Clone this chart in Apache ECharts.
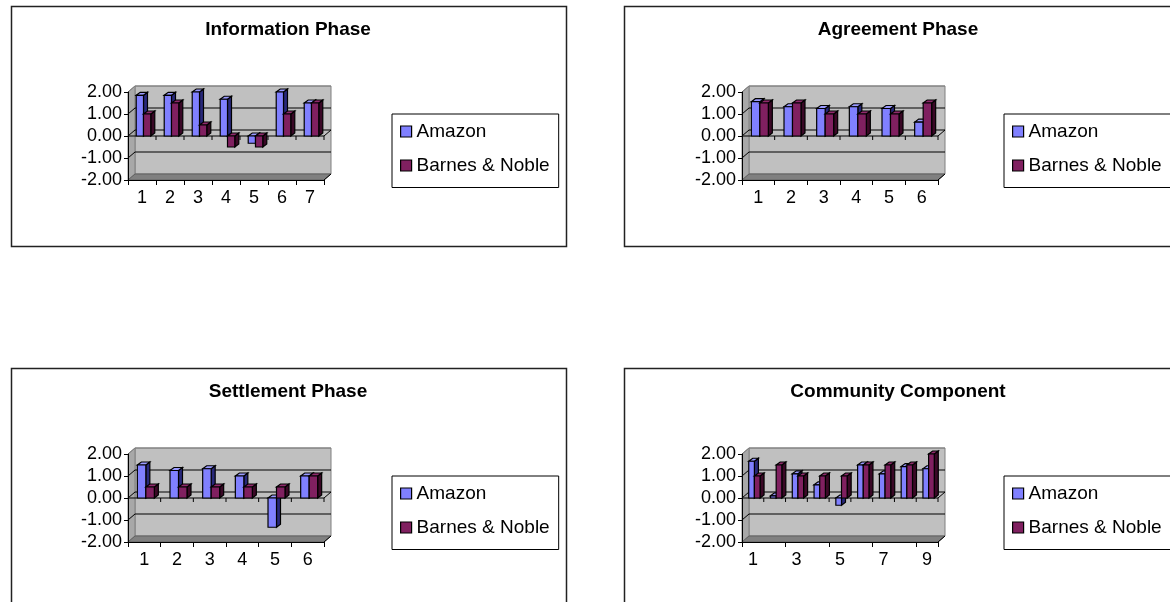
<!DOCTYPE html>
<html>
<head>
<meta charset="utf-8">
<script src="https://cdn.jsdelivr.net/npm/echarts@6/dist/echarts.min.js"></script>
<style>
html,body{margin:0;padding:0;background:#fff;}
#chart{width:1170px;height:602px;}
</style>
</head>
<body>
<div id="chart"></div>
<script>
// ---- data ----
const seriesNames = ['Amazon', 'Barnes & Noble'];
const titles = ['Information Phase', 'Agreement Phase', 'Settlement Phase', 'Community Component'];
const yTicks = [-2, -1, 0, 1, 2];

const infoCats = ['1', '2', '3', '4', '5', '6', '7'];
const infoAmazon = [1.85, 1.85, 2.0, 1.67, -0.33, 2.0, 1.5];
const infoBN = [1.0, 1.5, 0.5, -0.5, -0.5, 1.0, 1.5];

const agreeCats = ['1', '2', '3', '4', '5', '6'];
const agreeAmazon = [1.56, 1.33, 1.25, 1.33, 1.25, 0.63];
const agreeBN = [1.5, 1.5, 1.0, 1.0, 1.0, 1.5];

const settleCats = ['1', '2', '3', '4', '5', '6'];
const settleAmazon = [1.5, 1.25, 1.33, 1.0, -1.33, 1.0];
const settleBN = [0.5, 0.5, 0.5, 0.5, 0.5, 1.0];

const commCats = ['1', '2', '3', '4', '5', '6', '7', '8', '9'];
const commAmazon = [1.67, 0.1, 1.1, 0.6, -0.33, 1.5, 1.1, 1.43, 1.33];
const commBN = [1.0, 1.5, 1.0, 1.0, 1.0, 1.5, 1.5, 1.5, 2.0];

// ---- styling / layout ----
const FONT = 'Liberation Sans, Arial, sans-serif';
const COLORS = ['#8080ff', '#802060'];
const SIDE = ['#28287a', '#3a0826'];
const TOP = ['#9a9aff', '#902a6c'];
const DX = 7, DY = -6;      // depth of the plot box
const BDX = 4, BDY = -3;    // depth of each bar

const panels = [
  { cats: infoCats, a: infoAmazon, b: infoBN, box: [11, 6, 555, 240], grid: [128, 92], title: [288, 20], legend: [392, 114], legendPadR: 9 },
  { cats: agreeCats, a: agreeAmazon, b: agreeBN, box: [624, 6, 600, 240], grid: [742, 92], title: [898, 20], legend: [1004, 114], legendPadR: 30 },
  { cats: settleCats, a: settleAmazon, b: settleBN, box: [11, 368, 555, 300], grid: [128, 454], title: [288, 382], legend: [392, 476], legendPadR: 9 },
  { cats: commCats, a: commAmazon, b: commBN, box: [624, 368, 600, 300], grid: [742, 454], title: [898, 382], legend: [1004, 476], legendPadR: 30 }
];
const GW = 196, GH = 88;

function frameRender(n) {
  return function (params, api) {
    const band = api.size([1, 0])[0];
    const L = api.coord([0, 0])[0] - band / 2;
    const R = api.coord([n - 1, 0])[0] + band / 2;
    const T = api.coord([0, yTicks[yTicks.length - 1]])[1];
    const B = api.coord([0, yTicks[0]])[1];
    const Z = api.coord([0, 0])[1];
    const ch = [];
    ch.push({ type: 'polygon', shape: { points: [[L + DX, T + DY], [R + DX, T + DY], [R + DX, B + DY], [L + DX, B + DY]] }, style: { fill: '#c0c0c0', stroke: '#808080', lineWidth: 1 } });
    ch.push({ type: 'polygon', shape: { points: [[L, T], [L + DX, T + DY], [L + DX, B + DY], [L, B]] }, style: { fill: '#a8a8a8', stroke: '#808080', lineWidth: 1 } });
    ch.push({ type: 'polygon', shape: { points: [[L, B], [L + DX, B + DY], [R + DX, B + DY], [R, B]] }, style: { fill: '#808080', stroke: '#606060', lineWidth: 1 } });
    yTicks.forEach(function (v) {
      if (v === yTicks[0]) return;
      const y = api.coord([0, v])[1];
      const col = (v === yTicks[yTicks.length - 1]) ? '#808080' : '#000';
      ch.push({ type: 'line', shape: { x1: L + DX, y1: y + DY, x2: R + DX, y2: y + DY }, style: { stroke: col, lineWidth: 1 } });
      ch.push({ type: 'line', shape: { x1: L, y1: y, x2: L + DX, y2: y + DY }, style: { stroke: col, lineWidth: 1 } });
    });
    // front edge at zero with category ticks
    ch.push({ type: 'line', shape: { x1: L, y1: Z, x2: R, y2: Z }, style: { stroke: '#000', lineWidth: 1 } });
    ch.push({ type: 'line', shape: { x1: R, y1: Z, x2: R + DX, y2: Z + DY }, style: { stroke: '#000', lineWidth: 1 } });
    for (let k = 1; k <= n; k++) {
      const x = L + band * k;
      ch.push({ type: 'line', shape: { x1: x, y1: Z, x2: x, y2: Z + 4 }, style: { stroke: '#000', lineWidth: 1 } });
    }
    ch.push({ type: 'line', shape: { x1: R, y1: B, x2: R + DX, y2: B + DY }, style: { stroke: '#000', lineWidth: 1 } });
    return { type: 'group', children: ch };
  };
}

function barRender(s) {
  return function (params, api) {
    const i = api.value(0), v = api.value(1);
    const band = api.size([1, 0])[0];
    const bw = band * 0.26;
    const c = api.coord([i, 0]);
    const y0 = c[1], y1 = api.coord([i, v])[1];
    const x0 = c[0] - bw + s * bw + 1.5;
    const x1 = x0 + bw;
    const yt = Math.min(y0, y1), yb = Math.max(y0, y1);
    return {
      type: 'group', children: [
        { type: 'polygon', shape: { points: [[x1, yt], [x1 + BDX, yt + BDY], [x1 + BDX, yb + BDY], [x1, yb]] }, style: { fill: SIDE[s], stroke: '#000', lineWidth: 1.2 } },
        { type: 'polygon', shape: { points: [[x0, yt], [x0 + BDX, yt + BDY], [x1 + BDX, yt + BDY], [x1, yt]] }, style: { fill: TOP[s], stroke: '#000', lineWidth: 1.2 } },
        { type: 'rect', shape: { x: x0, y: yt, width: bw, height: yb - yt }, style: { fill: COLORS[s], stroke: '#000', lineWidth: 1.2 } }
      ]
    };
  };
}

const option = {
  animation: false,
  backgroundColor: '#fff',
  title: [], grid: [], xAxis: [], yAxis: [], legend: [], series: [],
  graphic: []
};

panels.forEach(function (p, k) {
  option.graphic.push({ type: 'rect', shape: { x: p.box[0] + 0.5, y: p.box[1] + 0.5, width: p.box[2], height: p.box[3] }, style: { fill: 'none', stroke: '#222', lineWidth: 1.5 }, z: -10 });
  option.title.push({ text: titles[k], left: p.title[0], top: p.title[1], textAlign: 'center', padding: 0, textStyle: { fontFamily: FONT, fontSize: 19, fontWeight: 'bold', color: '#000' } });
  option.grid.push({ left: p.grid[0], top: p.grid[1], width: GW, height: GH, containLabel: false });
  option.xAxis.push({
    type: 'category', gridIndex: k, data: p.cats, boundaryGap: true,
    axisLine: { onZero: false, lineStyle: { color: '#000', width: 1 } },
    axisTick: { show: true, length: 5, alignWithLabel: false, lineStyle: { color: '#000' } },
    axisLabel: { fontFamily: FONT, fontSize: 18, color: '#000', margin: 9, interval: p.cats.length > 8 ? 1 : 0 },
    splitLine: { show: false }, z: 5
  });
  option.yAxis.push({
    type: 'value', gridIndex: k, min: yTicks[0], max: yTicks[yTicks.length - 1], interval: 1,
    axisLine: { show: true, lineStyle: { color: '#000', width: 1 } },
    axisTick: { show: true, length: 4, lineStyle: { color: '#000' } },
    axisLabel: { fontFamily: FONT, fontSize: 18, color: '#000', margin: 6, formatter: function (v) { return v.toFixed(2); } },
    splitLine: { show: false }, z: 5
  });
  option.legend.push({
    orient: 'vertical', left: p.legend[0], top: p.legend[1], data: seriesNames, icon: 'rect',
    itemWidth: 11, itemHeight: 11, itemGap: 14, selectedMode: false,
    padding: [7.5, p.legendPadR, 12, 8], borderColor: '#000', borderWidth: 1,
    itemStyle: { borderColor: '#000', borderWidth: 1.2 },
    textStyle: { fontFamily: FONT, fontSize: 19, color: '#000', lineHeight: 20 }
  });
  option.series.push({
    type: 'custom', name: 'frame' + k, xAxisIndex: k, yAxisIndex: k, z: 1, silent: true,
    data: [[0, 0]], renderItem: frameRender(p.cats.length)
  });
  [p.a, p.b].forEach(function (vals, s) {
    option.series.push({
      type: 'custom', name: seriesNames[s], xAxisIndex: k, yAxisIndex: k, z: 2 + s,
      itemStyle: { color: COLORS[s] },
      data: vals.map(function (v, i) { return [i, v]; }),
      renderItem: barRender(s)
    });
  });
});

const chart = echarts.init(document.getElementById('chart'), null, { renderer: 'canvas' });
chart.setOption(option);
</script>
</body>
</html>
